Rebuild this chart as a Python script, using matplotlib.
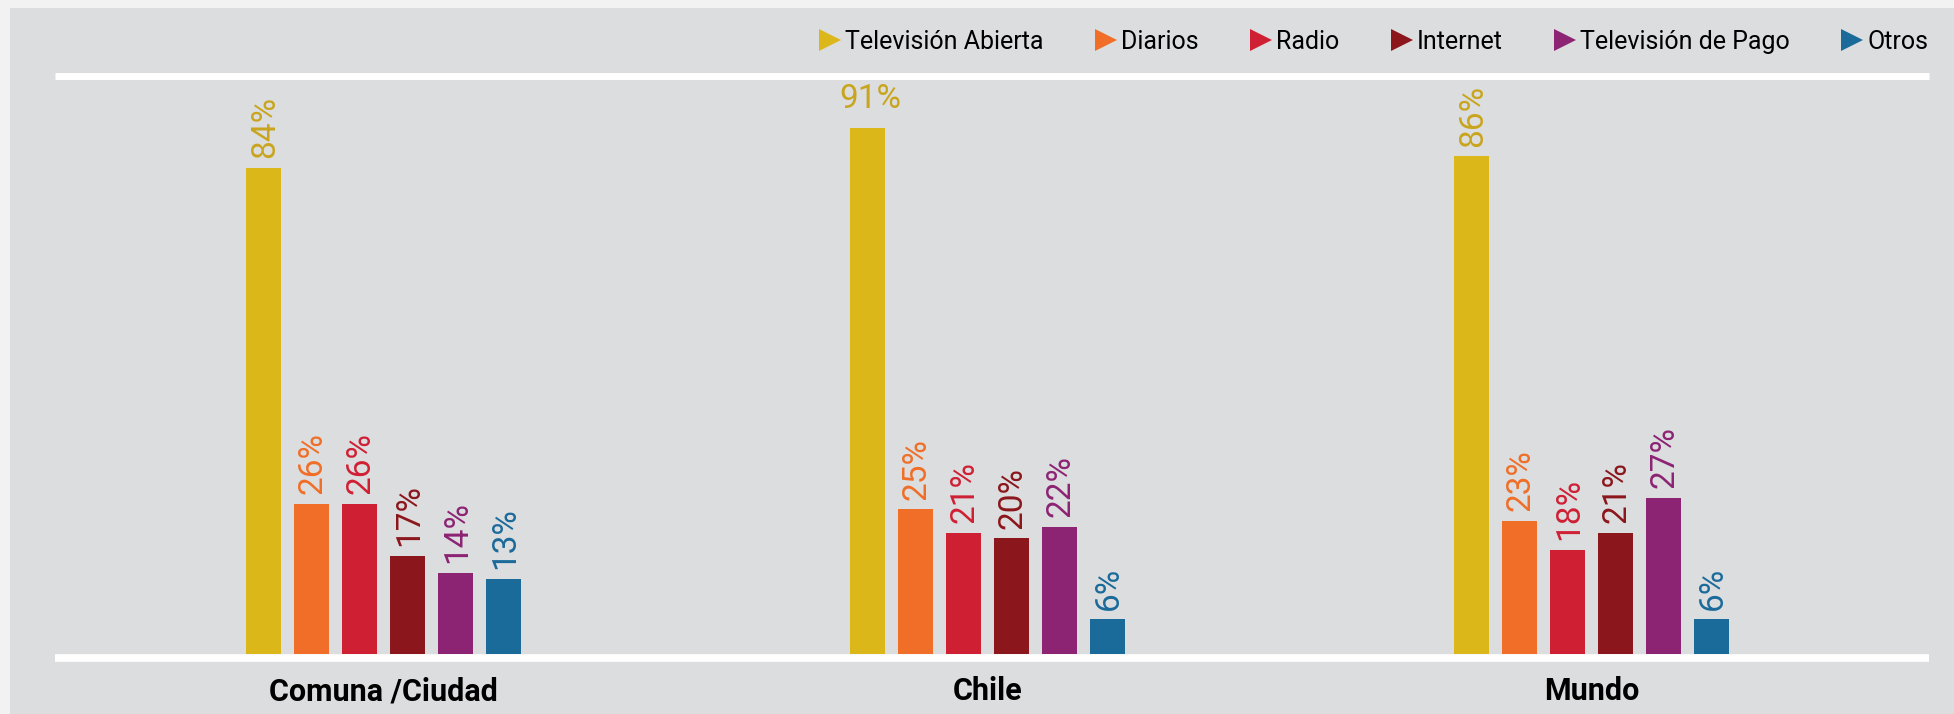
import matplotlib.pyplot as plt
from matplotlib.lines import Line2D
from matplotlib.patches import Rectangle
import numpy as np

# datos
grupos = ['Comuna /Ciudad', 'Chile', 'Mundo']
medios = ['Televisión Abierta', 'Diarios', 'Radio', 'Internet', 'Televisión de Pago', 'Otros']
tv_abierta = [84, 91, 86]
diarios = [26, 25, 23]
radio = [26, 21, 18]
internet = [17, 20, 21]
tv_pago = [14, 22, 27]
otros = [13, 6, 6]

series = [tv_abierta, diarios, radio, internet, tv_pago, otros]
colores = ['#dcb719', '#f06e27', '#cf1f33', '#8b161b', '#8c2373', '#1a6a9a']
colores_txt = ['#c9a51d', '#f06e27', '#cf1f33', '#8b161b', '#8c2373', '#1a6a9a']

fuente = ['Roboto', 'DejaVu Sans']

W, H = 1954, 714
fig = plt.figure(figsize=(W / 100, H / 100), dpi=100, facecolor='#f2f2f2')
fig.patches.append(Rectangle((10 / W, 0), 1, (H - 8) / H, transform=fig.transFigure,
                             facecolor='#dcdddf', edgecolor='none', zorder=-10))

ax = fig.add_axes([55 / W, (H - 654) / H, 1874 / W, (654 - 75.5) / H])
ax.set_facecolor('none')
for s in ax.spines.values():
    s.set_visible(False)

paso = 48 / 604
ancho = 35 / 604
x = np.arange(len(grupos))

for i, (vals, c, ct) in enumerate(zip(series, colores, colores_txt)):
    pos = x + (i - 2.5) * paso
    ax.bar(pos, vals, width=ancho, color=c, zorder=3)
    for px, v in zip(pos, vals):
        # la etiqueta de 91% no cabe girada bajo la línea superior
        if v >= 90:
            ax.annotate(f'{v}%', (px, v), xytext=(2, 9), textcoords='offset points',
                        ha='center', va='bottom', color=ct, fontsize=24, family=fuente)
        else:
            ax.annotate(f'{v}%', (px, v), xytext=(1, 7), textcoords='offset points',
                        ha='center', va='bottom', rotation=90, color=ct, fontsize=24,
                        family=fuente)

ax.axhline(100, color='white', lw=5, zorder=2, clip_on=False, solid_capstyle='butt')
ax.axhline(-0.7, color='white', lw=5.5, zorder=2, clip_on=False, solid_capstyle='butt')

ax.set_xlim(-(383.5 - 55) / 604, 2 + (1929 - 1591.5) / 604)
ax.set_ylim(0, 100)
ax.set_yticks([])
ax.set_xticks(x)
ax.set_xticklabels(grupos, fontsize=22, fontweight='bold', family=fuente)
ax.tick_params(axis='x', length=0, pad=16)

handles = [Line2D([], [], marker='>', linestyle='none', markersize=16, color=c,
                  markeredgewidth=0) for c in colores]
leg = ax.legend(handles, medios, ncol=6, loc='lower right', bbox_to_anchor=(1.005, 1.02),
                frameon=False, handletextpad=0.15, columnspacing=2.05, handlelength=0.9,
                prop={'family': fuente, 'size': 18}, borderaxespad=0)

fig.savefig('out.png', dpi=100, facecolor=fig.get_facecolor())
